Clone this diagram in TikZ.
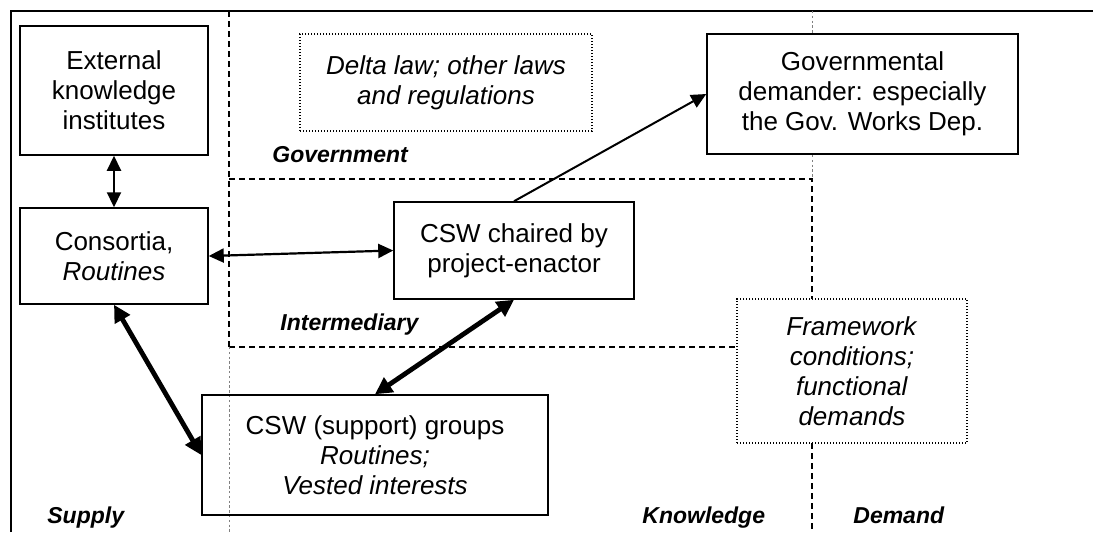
\documentclass[tikz,border=0pt]{standalone}
\usepackage{fontspec}
\setmainfont{Liberation Sans}
\usetikzlibrary{arrows.meta}
\begin{document}
\begin{tikzpicture}[x=0.5pt,y=-0.5pt,
  box/.style={draw,line width=0.75pt,align=center,inner sep=0pt,
    font=\fontsize{13}{15}\selectfont},
  dotbox/.style={box,line width=0.6pt,dash pattern=on 0.6pt off 0.9pt,fill=white},
  region/.style={font=\fontsize{11.5}{13}\selectfont\bfseries\itshape,anchor=base west,inner sep=0pt},
  border/.style={line width=0.75pt},
  zone/.style={line width=0.65pt,dash pattern=on 3pt off 2pt},
  faint/.style={line width=0.3pt,gray,dash pattern=on 1.2pt off 1.2pt},
  link/.style={line width=1.1pt,{Triangle[length=7.5pt,width=7pt]}-{Triangle[length=7.5pt,width=7pt]}},
  strong/.style={line width=2.4pt,{Triangle[length=8.5pt,width=8.5pt]}-{Triangle[length=8.5pt,width=8.5pt]}},
  flow/.style={line width=1pt,-{Triangle[length=7.5pt,width=7pt]}}
]
\useasboundingbox (0,0) rectangle (1093,532);

% frame and zone boundaries
\draw[border] (11,532) -- (11,11) -- (1093,11);
\draw[zone] (229,11) -- (229,347);
\draw[zone] (229,179) -- (812,179) -- (812,299);
\draw[zone] (812,443) -- (812,532);
\draw[zone] (229,347) -- (737,347);
\draw[faint] (229,347) -- (229,532);
\draw[faint] (812,11) -- (812,179);

% actors
\node[box,minimum width=94pt,minimum height=64.5pt] (ext) at (114,90.5)
  {External\\knowledge\\institutes};
\node[box,minimum width=94pt,minimum height=48pt] (cons) at (114,256)
  {Consortia,\\\textit{Routines}};
\node[dotbox,minimum width=146pt,minimum height=48.5pt] (law) at (446,82.5)
  {\textit{Delta law; other laws}\\\textit{and regulations}};
\node[box,fill=white,minimum width=155.5pt,minimum height=60pt] (gov) at (862.5,94)
  {Governmental\\demander: especially\\the Gov. Works Dep.};
\node[box,minimum width=120pt,minimum height=48.5pt] (chair) at (514,250.5)
  {CSW chaired by\\project-enactor};
\node[box,minimum width=173pt,minimum height=60pt] (supp) at (375,455)
  {CSW (support) groups\\\textit{Routines;}\\\textit{Vested interests}};
\node[dotbox,minimum width=115pt,minimum height=72pt] (frame) at (852,371)
  {\textit{Framework}\\\textit{conditions;}\\\textit{functional}\\\textit{demands}};

% zone labels
\node[region] (lgov) at (272,162) {Government};
\node[region] (lint) at (280,330) {Intermediary};
\node[region] (lsup) at (47,523) {Supply};
\node[region] (lkno) at (642,523) {Knowledge};
\node[region] (ldem) at (853,523) {Demand};

% relations
\draw[link] (ext.south) -- (cons.north);
\draw[link] (cons.east) -- (chair.west);
\draw[flow] (chair.north) -- (gov.west);
\draw[strong] (cons.south) -- (supp.west);
\draw[strong] (chair.south) -- (supp.north);
\end{tikzpicture}
\end{document}
